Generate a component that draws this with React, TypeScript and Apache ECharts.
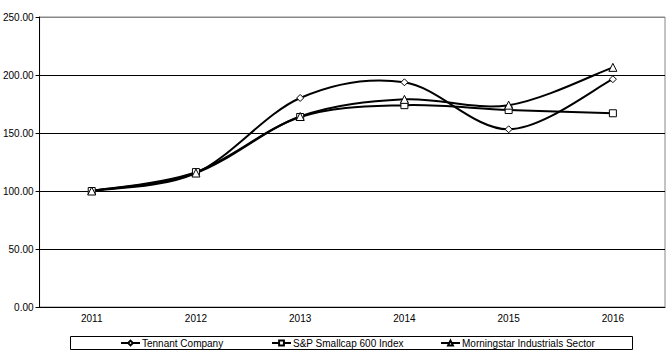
import React, { useEffect, useRef } from "react";
import * as echarts from "echarts";

const years = ["2011", "2012", "2013", "2014", "2015", "2016"];
const tennant = [100, 115.5, 180.2, 193.7, 153.2, 196.4];
const sp600 = [100, 116.3, 163.8, 174.0, 169.8, 167.0];
const morningstar = [100, 115.5, 164.2, 179.0, 174.0, 206.6];
const seriesNames = ["Tennant Company", "S&P Smallcap 600 Index", "Morningstar Industrials Sector"];

const FONT = "Liberation Sans, Arial, sans-serif";

export default function App() {
  const ref = useRef<HTMLDivElement>(null);
  useEffect(() => {
    const chart = echarts.init(ref.current!, undefined, { renderer: "svg" });
    const n = years.length;
    // Excel-like smoothed curve drawn through the axis scales
    const curve = (name: string, data: number[]) => ({
      name: name + " curve",
      type: "custom",
      data: data.map((v, i) => [i, v]),
      z: 2,
      silent: true,
      renderItem: (params: any, api: any) => {
        const i = params.dataIndexInside;
        if (i >= n - 1) return null;
        const pt = (k: number) => {
          const kk = Math.max(0, Math.min(n - 1, k));
          return api.coord([api.value(0, kk), api.value(1, kk)]);
        };
        const p0 = pt(i - 1);
        const p1 = pt(i);
        const p2 = pt(i + 1);
        const p3 = pt(i + 2);
        const t = 1 / 6;
        return {
          type: "bezierCurve",
          shape: {
            x1: p1[0],
            y1: p1[1],
            cpx1: p1[0] + (p2[0] - p0[0]) * t,
            cpy1: p1[1] + (p2[1] - p0[1]) * t,
            cpx2: p2[0] - (p3[0] - p1[0]) * t,
            cpy2: p2[1] - (p3[1] - p1[1]) * t,
            x2: p2[0],
            y2: p2[1],
          },
          style: { stroke: "#000", lineWidth: 2, fill: "none" },
        };
      },
    });
    const marks = (name: string, data: number[], symbol: string, size: number) => ({
      name,
      type: "line",
      data,
      symbol,
      symbolSize: size,
      showAllSymbol: true,
      lineStyle: { color: "#000", width: 2, opacity: 0 },
      itemStyle: { color: "#fff", borderColor: "#000", borderWidth: 1 },
      z: 3,
    });
    const legendItem = (name: string, left: number) => ({
      data: [name],
      left,
      top: 338,
      itemWidth: 19,
      itemHeight: 6,
      itemGap: 0,
      padding: 0,
      lineStyle: { color: "#000", width: 2, opacity: 1 },
      textStyle: { fontFamily: FONT, fontSize: 10, color: "#000", padding: [0, 0, 0, -3] },
      selectedMode: false,
    });
    chart.setOption({
      animation: false,
      backgroundColor: "#fff",
      grid: {
        left: 39,
        right: 7,
        top: 17,
        bottom: 50,
        show: true,
        borderColor: "#888",
        borderWidth: 1,
      },
      xAxis: {
        type: "category",
        data: years,
        boundaryGap: true,
        axisLine: { lineStyle: { color: "#000", width: 1 } },
        axisTick: { alignWithLabel: true, length: 3, lineStyle: { color: "#000" } },
        axisLabel: { fontFamily: FONT, fontSize: 10, color: "#000", margin: 6 },
      },
      yAxis: {
        type: "value",
        min: 0,
        max: 250,
        interval: 50,
        axisLine: { show: true, lineStyle: { color: "#000", width: 1 } },
        axisTick: { show: true, length: 4, lineStyle: { color: "#000" } },
        axisLabel: {
          fontFamily: FONT,
          fontSize: 10,
          color: "#000",
          margin: 6,
          formatter: (v: number) => v.toFixed(2),
        },
        splitLine: {
          lineStyle: { color: ["#000", "#000", "#000", "#000", "#000", "#888"], width: 1 },
        },
      },
      legend: [
        legendItem(seriesNames[0], 120),
        legendItem(seriesNames[1], 271),
        legendItem(seriesNames[2], 440),
      ],
      graphic: [
        {
          type: "rect",
          shape: { x: 70.5, y: 336.5, width: 562, height: 13 },
          style: { fill: "none", stroke: "#000", lineWidth: 1 },
          silent: true,
        },
      ],
      series: [
        curve(seriesNames[0], tennant),
        curve(seriesNames[1], sp600),
        curve(seriesNames[2], morningstar),
        marks(seriesNames[0], tennant, "diamond", 7),
        marks(seriesNames[1], sp600, "rect", 7),
        marks(seriesNames[2], morningstar, "triangle", 8),
      ],
    });
    return () => chart.dispose();
  }, []);
  return (
    <div
      ref={ref}
      style={{ position: "fixed", left: 0, top: 0, width: 672, height: 357 }}
    />
  );
}
